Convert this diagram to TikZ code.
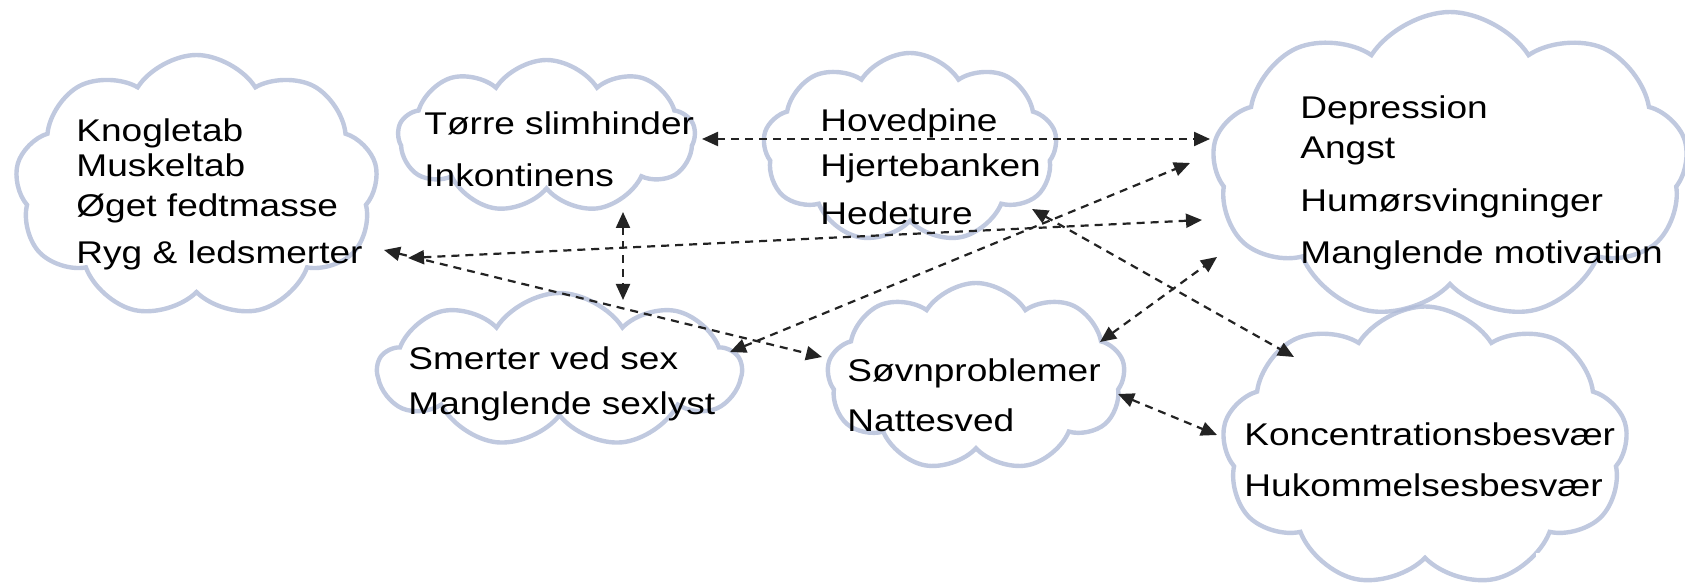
\documentclass[tikz,border=0pt]{standalone}
\usepackage{fontspec}
\setmainfont{Liberation Sans}[FakeStretch=1.18]
\usetikzlibrary{shapes.symbols,arrows.meta}

\definecolor{cloudblue}{RGB}{176,187,215}
\definecolor{linkgray}{RGB}{35,35,35}

\tikzset{
  puff/.style={cloud, cloud puffs=9, cloud puff arc=115, cloud ignores aspect,
    draw=cloudblue, draw opacity=0.8, line width=2.2pt, inner sep=0pt},
  lbl/.style={anchor=base west, inner sep=0pt, font=\fontsize{15.7}{18}\selectfont},
  link/.style={dash pattern=on 4pt off 3pt, line width=1.1pt, color=linkgray,
    {Triangle[length=8pt,width=7pt]}-{Triangle[length=8pt,width=7pt]}}
}

\begin{document}
\begin{tikzpicture}[x=0.5pt,y=-0.5pt]
    \useasboundingbox (0,0) rectangle (1685,587);
    \clip (0,0) rectangle (1685,587);

    % clouds
    \foreach \n/\x/\y/\w/\h in {bone/196.5/186.5/181.5/131.5, dry/546.5/136.5/148.5/76.5,
        head/910/148/147/95, dep/1450/166/238/154, sex/559.5/370/181.5/77,
        sleep/976/377/149/94, conc/1425/447/203/140.5}
        \node[puff, minimum width=\w pt, minimum height=\h pt] (\n) at (\x,\y) {};
    \fill[white] (1536,553) rectangle (1685,587);

    % texts
    \foreach \t/\y [count=\i] in {Knogletab/141.7, Muskeltab/176.7, Øget fedtmasse/216.7, Ryg \& ledsmerter/263.3}
        \node[lbl] (bone-\i) at (76,\y) {\t};
    \foreach \t/\y [count=\i] in {Tørre slimhinder/135, Inkontinens/186.7}
        \node[lbl] (dry-\i) at (424,\y) {\t};
    \foreach \t/\y [count=\i] in {Hovedpine/131.7, Hjertebanken/176.7, Hedeture/225}
        \node[lbl] (head-\i) at (820,\y) {\t};
    \foreach \t/\y [count=\i] in {Depression/118.3, Angst/158.3, Humørsvingninger/211.7, Manglende motivation/263.3}
        \node[lbl] (dep-\i) at (1300,\y) {\t};
    \foreach \t/\y [count=\i] in {Smerter ved sex/369.3, Manglende sexlyst/415}
        \node[lbl] (sex-\i) at (408,\y) {\t};
    \foreach \t/\y [count=\i] in {Søvnproblemer/381.7, Nattesved/431.7}
        \node[lbl] (sleep-\i) at (847,\y) {\t};
    \foreach \t/\y [count=\i] in {Koncentrationsbesvær/445, Hukommelsesbesvær/496.7}
        \node[lbl] (conc-\i) at (1244,\y) {\t};

    % arrow ends
    \coordinate (dry-e)    at (702,139);
    \coordinate (dry-s)    at (623,212);
    \coordinate (bone-e)   at (408,258);
    \coordinate (bone-se)  at (384,250);
    \coordinate (head-se)  at (1032,209);
    \coordinate (sex-n)    at (623,300);
    \coordinate (sex-ne)   at (730,352);
    \coordinate (sleep-nw) at (822,357);
    \coordinate (sleep-ne) at (1100,342);
    \coordinate (sleep-e)  at (1118,394);
    \coordinate (dep-w1)   at (1210,139);
    \coordinate (dep-w2)   at (1190,163);
    \coordinate (dep-w3)   at (1202,220);
    \coordinate (dep-sw)   at (1217,257);
    \coordinate (conc-nw)  at (1294,357);
    \coordinate (conc-w)   at (1217,435);

    \draw[link] (dry-e) -- (dep-w1);
    \draw[link] (dry-s) -- (sex-n);
    \draw[link] (bone-e) -- (dep-w3);
    \draw[link] (bone-se) -- (sleep-nw);
    \draw[link] (sex-ne) -- (dep-w2);
    \draw[link] (head-se) -- (conc-nw);
    \draw[link] (sleep-ne) -- (dep-sw);
    \draw[link] (sleep-e) -- (conc-w);
\end{tikzpicture}
\end{document}
